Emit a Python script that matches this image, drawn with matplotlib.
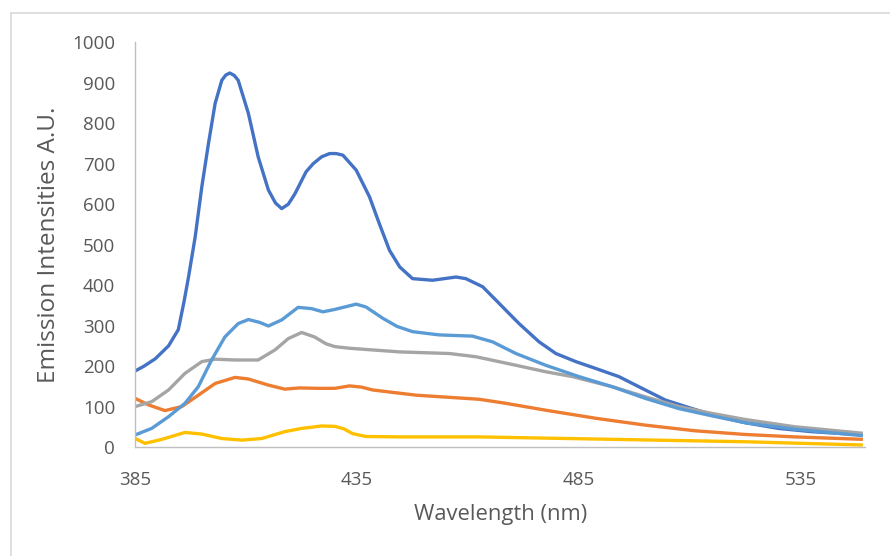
import matplotlib.pyplot as plt
from matplotlib.lines import Line2D

plt.rcParams['font.family'] = ['Open Sans', 'DejaVu Sans']

# wavelength (nm) / intensity pairs
wl_s1 = [385, 387, 389.5, 392.5, 394.7, 396, 397, 398.5, 400, 401.5, 403, 404.5, 405.4, 406.3, 407.3, 408.2, 410.5, 412.7, 415, 416.6, 418, 419.5, 421, 423.5, 425.1, 427, 428.8, 430.3, 431.8, 434.8, 437.8, 440, 442.3, 444.6, 447.5, 452, 457.3, 459.5, 463.3, 467, 471.5, 476, 479.8, 484.3, 488.8, 494, 498.5, 504.5, 510.5, 516.5, 522.5, 530, 537.4, 549]
int_s1 = [188, 200, 218, 250, 290, 360, 420, 519, 643, 750, 849, 906, 919, 924, 918, 906, 824, 717, 635, 603, 589, 600, 626, 680, 700, 717, 725, 725, 721, 684, 618, 552, 486, 445, 416, 412, 420, 416, 396, 355, 305, 260, 231, 211, 194, 174, 149, 116, 95, 75, 60, 46, 38, 30]

wl_s2 = [385, 388, 391.7, 395.5, 399.2, 403, 407.5, 410.5, 415, 418.7, 422, 426.2, 430, 433.3, 436, 438.5, 443, 448.4, 454, 462.5, 468.5, 477.5, 488.8, 500, 511.3, 522.5, 533.7, 549]
int_s2 = [120, 104, 90, 100, 128, 157, 172, 168, 153, 143, 146, 145, 145, 151, 148, 141, 135, 128, 124, 118, 108, 91, 71, 54, 40, 31, 25, 19]

wl_s3 = [385, 388.7, 392.5, 396.2, 400, 403, 407.5, 412.7, 416.5, 419.5, 422.5, 425.4, 428, 430, 433.3, 444.6, 455.8, 461.8, 470.8, 477.5, 483.5, 492.5, 500, 507.5, 515, 522.5, 533.7, 549]
int_s3 = [100, 112, 141, 182, 211, 217, 215, 215, 240, 268, 283, 272, 255, 248, 244, 235, 231, 223, 202, 186, 174, 149, 124, 100, 83, 68, 50, 34]

wl_s4 = [385, 387.2, 391, 396.2, 400, 404.5, 409, 413.5, 418.7, 422.5, 427, 430, 432, 434, 437, 445, 462.5, 492.5, 522.5, 549]
int_s4 = [21, 9, 19, 36, 32, 21, 17, 21, 38, 46, 52, 51, 45, 33, 26, 25, 25, 19, 13, 5]

wl_s5 = [385, 388.7, 392.5, 396.2, 399.2, 402.2, 405.2, 408.2, 410.5, 413, 415, 418, 421.7, 424.7, 427.3, 430, 434.8, 437, 440.8, 444, 447.5, 453.5, 461, 465.5, 470.8, 477.5, 485, 492.5, 500, 507.5, 515, 522.5, 533.7, 549]
int_s5 = [30, 46, 75, 108, 149, 215, 272, 305, 315, 308, 299, 314, 345, 342, 334, 340, 353, 346, 318, 298, 285, 277, 274, 260, 231, 202, 174, 149, 120, 95, 77, 60, 44, 28]

series = [
    (wl_s1, int_s1, '#4472C4'),
    (wl_s2, int_s2, '#ED7D31'),
    (wl_s3, int_s3, '#A5A5A5'),
    (wl_s4, int_s4, '#FFC000'),
    (wl_s5, int_s5, '#5B9BD5'),
]

fig = plt.figure(figsize=(8.9, 5.56), dpi=100)
ax = fig.add_axes([0.152, 0.196, 0.820, 0.728])

for wl, val, col in series:
    ax.plot(wl, val, color=col, linewidth=2.4, solid_joinstyle='round',
            solid_capstyle='butt')

ax.set_xlim(385, 549.5)
ax.set_ylim(0, 1000)
ax.set_xticks([385, 435, 485, 535])
ax.set_yticks(range(0, 1001, 100))

for side in ['top', 'right']:
    ax.spines[side].set_visible(False)
for side in ['left', 'bottom']:
    ax.spines[side].set_color('#BFBFBF')
    ax.spines[side].set_linewidth(1.0)
ax.tick_params(length=0, labelsize=13.5, labelcolor='#595959')
ax.tick_params(axis='x', pad=17)
ax.tick_params(axis='y', pad=14.5)

ax.set_xlabel('Wavelength (nm)', fontsize=15.8, color='#595959', labelpad=11)
ax.set_ylabel('Emission Intensities A.U.', fontsize=17.5, color='#595959', labelpad=8)

# light chart-area border (top and left visible)
fig.add_artist(Line2D([0.0125, 1.0], [0.976, 0.976], color='#D9D9D9', linewidth=1.2,
                      transform=fig.transFigure))
fig.add_artist(Line2D([0.0125, 0.0125], [0.0, 0.976], color='#D9D9D9', linewidth=1.2,
                      transform=fig.transFigure))

plt.savefig('out.png', dpi=100)
plt.close()
